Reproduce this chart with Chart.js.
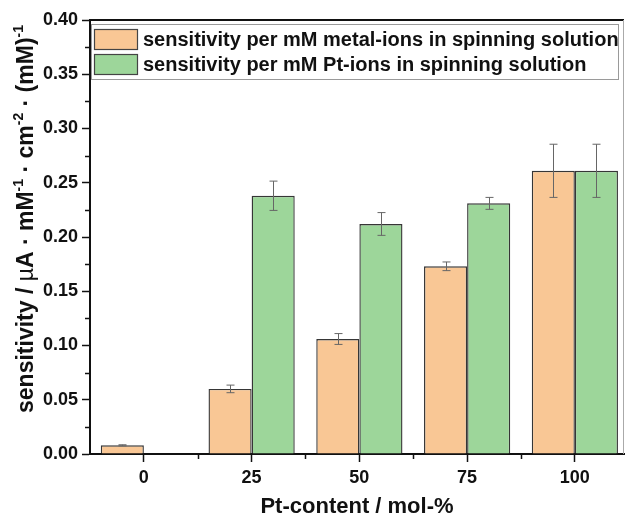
<!DOCTYPE html>
<html>
<head>
<meta charset="utf-8">
<script src="https://cdn.jsdelivr.net/npm/chart.js@4.4.1/dist/chart.umd.min.js"></script>
<style>
  html, body { margin: 0; padding: 0; background: #ffffff; }
  #c { display: block; }
</style>
</head>
<body>
<canvas id="c" width="628" height="520"></canvas>
<script>
// ---- data ----
const categories = [0, 25, 50, 75, 100];
const seriesLabels = [
  'sensitivity per mM metal-ions in spinning solution',
  'sensitivity per mM Pt-ions in spinning solution'
];
const metalValues = [0.008, 0.060, 0.106, 0.173, 0.261];
const metalErrors = [0.0005, 0.0035, 0.005, 0.004, 0.0245];
const ptValues = [null, 0.238, 0.212, 0.231, 0.261];
const ptErrors = [null, 0.0135, 0.0105, 0.0055, 0.0245];
const yTicks = [0, 0.05, 0.10, 0.15, 0.20, 0.25, 0.30, 0.35, 0.40];
const xTitle = 'Pt-content / mol-%';

const FONT = '"Liberation Sans", Arial, Helvetica, sans-serif';

function toPoints(vals) {
  return categories.map((c, i) => ({ x: c, y: vals[i] }));
}

const errorBarPlugin = {
  id: 'errorBars',
  afterDatasetsDraw(chart) {
    const ctx = chart.ctx;
    const yScale = chart.scales.y;
    const errs = [metalErrors, ptErrors];
    chart.data.datasets.forEach((ds, di) => {
      const meta = chart.getDatasetMeta(di);
      meta.data.forEach((bar, i) => {
        const v = ds.data[i].y;
        const e = errs[di][i];
        if (v == null || e == null) return;
        const yTop = yScale.getPixelForValue(v + e);
        const yBot = yScale.getPixelForValue(v - e);
        const x = Math.round(bar.x) + 0.5;
        ctx.save();
        ctx.strokeStyle = '#666666';
        ctx.lineWidth = 1;
        ctx.beginPath();
        ctx.moveTo(x, yTop); ctx.lineTo(x, yBot);
        ctx.moveTo(x - 4, yTop); ctx.lineTo(x + 4, yTop);
        ctx.moveTo(x - 4, yBot); ctx.lineTo(x + 4, yBot);
        ctx.stroke();
        ctx.restore();
      });
    });
  }
};

const framePlugin = {
  id: 'frame',
  afterDraw(chart) {
    const ctx = chart.ctx;
    const a = chart.chartArea;
    const xs = chart.scales.x, ys = chart.scales.y;
    ctx.save();
    // top border
    ctx.strokeStyle = '#111111';
    ctx.lineWidth = 2;
    ctx.beginPath();
    ctx.moveTo(a.left, a.top); ctx.lineTo(a.right, a.top);
    ctx.stroke();
    // right border (faint)
    ctx.strokeStyle = '#aaaaaa';
    ctx.lineWidth = 1;
    ctx.beginPath();
    ctx.moveTo(a.right - 0.5, a.top); ctx.lineTo(a.right - 0.5, a.bottom);
    ctx.stroke();
    // minor ticks
    ctx.strokeStyle = '#111111';
    ctx.lineWidth = 1.5;
    ctx.beginPath();
    for (let i = 0; i < yTicks.length - 1; i++) {
      const v = (yTicks[i] + yTicks[i + 1]) / 2;
      const py = Math.round(ys.getPixelForValue(v)) + 0.5;
      ctx.moveTo(a.left - 5, py); ctx.lineTo(a.left, py);
    }
    for (let i = 0; i < categories.length - 1; i++) {
      const v = (categories[i] + categories[i + 1]) / 2;
      const px = Math.round(xs.getPixelForValue(v)) + 0.5;
      ctx.moveTo(px, a.bottom); ctx.lineTo(px, a.bottom + 5);
    }
    ctx.stroke();
    ctx.restore();
  }
};

const legendPlugin = {
  id: 'boxLegend',
  afterDraw(chart) {
    const ctx = chart.ctx;
    const a = chart.chartArea;
    const bx = a.left + 1, by = 24, bw = 527, bh = 55;
    ctx.save();
    ctx.strokeStyle = '#9a9a9a';
    ctx.lineWidth = 1;
    ctx.strokeRect(bx + 0.5, by + 0.5, bw, bh);
    chart.data.datasets.forEach((ds, i) => {
      const sy = by + 5 + i * 25;
      ctx.fillStyle = ds.backgroundColor;
      ctx.fillRect(bx + 3, sy, 44, 21);
      ctx.strokeStyle = '#444444';
      ctx.lineWidth = 1.2;
      ctx.strokeRect(bx + 3.5, sy + 0.5, 43, 20);
      ctx.fillStyle = '#111111';
      ctx.font = 'bold 20px ' + FONT;
      ctx.textBaseline = 'middle';
      ctx.textAlign = 'left';
      ctx.fillText(ds.label, bx + 52, sy + 11);
    });
    ctx.restore();
  }
};

const yTitlePlugin = {
  id: 'yTitle',
  afterDraw(chart) {
    const ctx = chart.ctx;
    const big = 'bold 23px ' + FONT;
    const norm = '23px ' + FONT;
    const sup = 'bold 14px ' + FONT;
    const segs = [
      { t: 'sensitivity / ', f: big },
      { t: '\u00b5', f: norm },
      { t: 'A \u00b7 mM', f: big },
      { t: '-1', f: sup, s: true },
      { t: ' \u00b7 cm', f: big },
      { t: '-2', f: sup, s: true },
      { t: ' \u00b7 (mM)', f: big },
      { t: '-1', f: sup, s: true }
    ];
    ctx.save();
    let total = 0;
    segs.forEach(s => { ctx.font = s.f; s.w = ctx.measureText(s.t).width; total += s.w; });
    ctx.translate(25, 219);
    ctx.rotate(-Math.PI / 2);
    ctx.fillStyle = '#111111';
    ctx.textBaseline = 'alphabetic';
    ctx.textAlign = 'left';
    let x = -total / 2;
    segs.forEach(s => {
      ctx.font = s.f;
      ctx.fillText(s.t, x, s.s ? -2 : 8);
      x += s.w;
    });
    ctx.restore();
  }
};

new Chart(document.getElementById('c'), {
  type: 'bar',
  data: {
    datasets: [
      {
        label: seriesLabels[0],
        data: toPoints(metalValues),
        backgroundColor: '#f9c795',
        borderColor: '#363636',
        borderWidth: 1.4
      },
      {
        label: seriesLabels[1],
        data: toPoints(ptValues),
        backgroundColor: '#9dd69a',
        borderColor: '#363636',
        borderWidth: 1.4
      }
    ]
  },
  options: {
    responsive: false,
    animation: false,
    devicePixelRatio: 1,
    layout: { padding: { top: 20, right: 4, left: 0, bottom: 0 } },
    datasets: { bar: { categoryPercentage: 0.8, barPercentage: 1.0 } },
    plugins: {
      legend: { display: false },
      tooltip: { enabled: false }
    },
    scales: {
      x: {
        type: 'linear',
        offset: false,
        min: -12.5,
        max: 111.4,
        afterBuildTicks(scale) { scale.ticks = categories.map(v => ({ value: v })); },
        afterFit(scale) { scale.height = 66; },
        ticks: {
          autoSkip: false,
          maxRotation: 0,
          padding: 5,
          color: '#111111',
          font: { family: FONT, size: 18, weight: 'bold' },
          callback: (v) => String(v)
        },
        grid: { offset: false, drawOnChartArea: false, drawTicks: true, tickLength: 8, tickWidth: 1.5, tickColor: '#111111' },
        border: { display: true, color: '#111111', width: 2 },
        title: {
          display: true,
          text: xTitle,
          color: '#111111',
          font: { family: FONT, size: 22, weight: 'bold' },
          padding: { top: 15, bottom: 0 }
        }
      },
      y: {
        min: 0,
        max: 0.4,
        afterBuildTicks(scale) { scale.ticks = yTicks.map(v => ({ value: v })); },
        afterFit(scale) { scale.width = 90; },
        ticks: {
          autoSkip: false,
          padding: 4,
          color: '#111111',
          font: { family: FONT, size: 18, weight: 'bold' },
          callback: (v) => Number(v).toFixed(2)
        },
        grid: { drawOnChartArea: false, drawTicks: true, tickLength: 8, tickWidth: 1.5, tickColor: '#111111' },
        border: { display: true, color: '#111111', width: 2 }
      }
    }
  },
  plugins: [errorBarPlugin, framePlugin, legendPlugin, yTitlePlugin]
});
</script>
</body>
</html>
